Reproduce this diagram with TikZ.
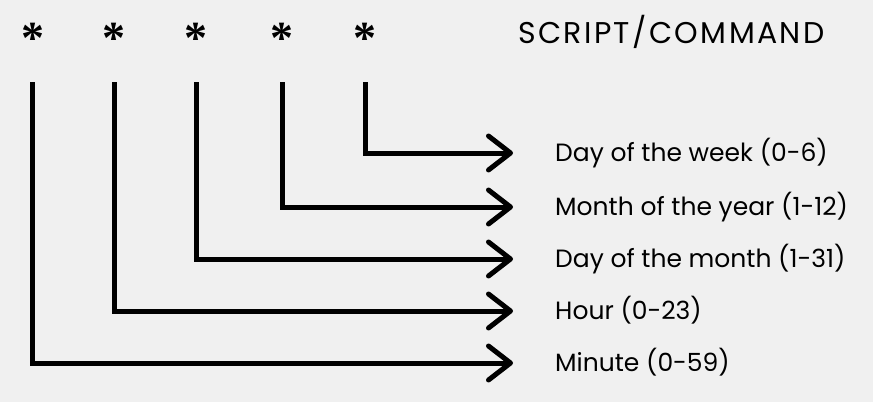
\documentclass[tikz,border=0pt]{standalone}
\usepackage{fontspec}
\setmainfont{Poppins}
\newfontfamily\starfont{Liberation Serif}
\usetikzlibrary{arrows.meta}
\definecolor{bggray}{HTML}{F0F0F0}
\begin{document}
\begin{tikzpicture}[x=1pt,y=-1pt,
	cronstar/.style={inner sep=0pt, font=\starfont\bfseries\fontsize{46}{46}\selectfont},
	field/.style={anchor=west, inner sep=0pt, text height=17.5pt, text depth=0pt, font=\fontsize{25}{25}\selectfont},
	link/.style={line width=5pt, -{Straight Barb[length=22pt,width=34pt,round]}}]
			\fill[bggray] (0,0) rectangle (873,402);
			\node[cronstar] (s1) at (32.5,38) {*};
			\node[cronstar] (s2) at (114,38) {*};
			\node[cronstar] (s3) at (196,38) {*};
			\node[cronstar] (s4) at (282,38) {*};
			\node[cronstar] (s5) at (365,38) {*};
			\node[field, text height=21pt, font=\fontsize{30}{30}\selectfont] (cmd) at (518,32.5) {\addfontfeature{LetterSpace=8}SCRIPT/COMMAND};
			\node[field] (dow) at (555,153) {Day of the week (0-6)};
			\node[field] (mon) at (555,207) {Month of the year (1-12)};
			\node[field] (dom) at (555,259) {Day of the month (1-31)};
			\node[field] (hr) at (555,311) {Hour (0-23)};
			\node[field] (min) at (555,363) {Minute (0-59)};
			\draw[link] ([yshift=-44pt]s5.center) |- ([xshift=-42pt]dow.west);
			\draw[link] ([yshift=-44pt]s4.center) |- ([xshift=-42pt]mon.west);
			\draw[link] ([yshift=-44pt]s3.center) |- ([xshift=-42pt]dom.west);
			\draw[link] ([yshift=-44pt]s2.center) |- ([xshift=-42pt]hr.west);
			\draw[link] ([yshift=-44pt]s1.center) |- ([xshift=-42pt]min.west);
		\end{tikzpicture}
\end{document}
